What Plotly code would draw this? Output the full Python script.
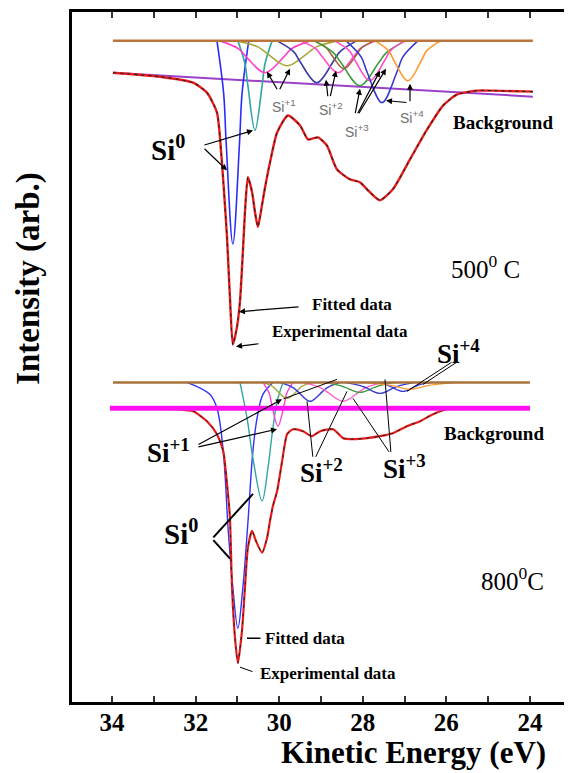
import plotly.graph_objects as go

# ---------------- data (kinetic energy in eV, intensity in arb. units) ----------------
tick_values = [34, 33, 32, 31, 30, 29, 28, 27, 26, 25, 24]
tick_labels = ["34", "", "32", "", "30", "", "28", "", "26", "", "24"]

# 500 C panel
top_baseline_energy = [33.98, 23.93]
top_baseline_intensity = [664, 664]
top_background_energy = [33.98, 23.93]
top_background_intensity = [632, 608]
top_exp_energy = [33.98, 32.85, 32.06, 31.73, 31.49, 31.39, 31.32, 31.25, 31.18, 31.11,
                  31.01, 30.94, 30.87, 30.82, 30.75, 30.65, 30.58, 30.51, 30.44, 30.36,
                  30.22, 30.05, 29.79, 29.50, 29.31, 29.07, 28.86, 28.62, 28.31, 28.07,
                  27.83, 27.59, 27.28, 26.87, 26.46, 26.08, 25.75, 25.27, 24.89, 23.93]
top_exp_intensity = [632, 628, 622, 612, 592, 552, 512, 467, 407, 359,
                     377, 402, 452, 492, 527, 512, 492, 477, 492, 512,
                     542, 572, 589, 579, 565, 567, 559, 535, 525, 522,
                     512, 504, 515, 545, 575, 599, 610, 614, 614, 613]
top_component_energy = [
    [31.49, 31.33, 31.27, 31.11, 30.95, 30.89, 30.73],
    [30.99, 30.82, 30.75, 30.58, 30.41, 30.34, 30.17],
    [31.42, 30.97, 30.79, 30.34, 29.89, 29.71, 29.26],
    [31.01, 30.51, 30.31, 29.81, 29.31, 29.11, 28.61],
    [30.05, 29.65, 29.50, 29.10, 28.71, 28.55, 28.15],
    [29.49, 29.12, 28.97, 28.59, 28.22, 28.07, 27.69],
    [29.17, 28.87, 28.75, 28.45, 28.15, 28.03, 27.73],
    [29.15, 28.70, 28.52, 28.07, 27.62, 27.44, 26.99],
    [28.67, 28.32, 28.18, 27.83, 27.48, 27.34, 26.99],
    [28.40, 28.04, 27.90, 27.54, 27.18, 27.04, 26.68],
    [27.70, 27.38, 27.25, 26.92, 26.60, 26.47, 26.14],
]
top_component_intensity = [
    [664, 611, 562, 460, 562, 611, 664],
    [664, 641, 619, 574, 619, 641, 664],
    [664, 656, 648, 632, 648, 656, 664],
    [664, 658, 652, 639, 652, 658, 664],
    [664, 653, 643, 622, 643, 653, 664],
    [664, 656, 648, 632, 648, 656, 664],
    [664, 657, 650, 636, 650, 657, 664],
    [664, 652, 642, 619, 642, 652, 664],
    [664, 654, 644, 624, 644, 654, 664],
    [664, 648, 633, 602, 633, 648, 664],
    [664, 654, 644, 624, 644, 654, 664],
]

# 800 C panel
bottom_baseline_energy = [33.98, 24.00]
bottom_baseline_intensity = [321, 321]
bottom_background_energy = [34.05, 24.00]
bottom_background_intensity = [295, 295]
bottom_exp_energy = [33.98, 32.44, 32.06, 31.73, 31.49, 31.34, 31.25, 31.18, 31.13, 31.06,
                     30.99, 30.89, 30.82, 30.75, 30.65, 30.56, 30.41, 30.29, 30.22, 30.15,
                     30.05, 29.93, 29.81, 29.67, 29.43, 29.22, 29.02, 28.71, 28.47, 28.23,
                     27.90, 27.59, 27.28, 26.94, 26.63, 26.32, 25.99, 25.67, 24.89, 24.00]
bottom_exp_intensity = [295, 294, 292, 282, 269, 252, 219, 185, 115, 65,
                        39, 72, 115, 155, 172, 162, 150, 165, 182, 197,
                        212, 242, 269, 274, 272, 267, 272, 274, 265, 264,
                        265, 267, 270, 277, 282, 289, 294, 295, 295, 295]
bottom_component_energy = [
    [32.21, 31.66, 31.49, 31.34, 31.22, 31.11, 30.99, 30.87, 30.75, 30.63, 30.53, 30.39, 30.15],
    [30.94, 30.77, 30.63, 30.41, 30.27, 30.17, 30.05, 29.91],
    [30.39, 30.24, 30.18, 30.03, 29.88, 29.82, 29.67],
    [30.41, 30.16, 30.06, 29.81, 29.56, 29.46, 29.21],
    [29.98, 29.68, 29.56, 29.26, 28.96, 28.84, 28.54],
    [29.43, 29.03, 28.87, 28.47, 28.07, 27.91, 27.51],
    [28.91, 28.56, 28.42, 28.07, 27.72, 27.58, 27.23],
    [28.43, 28.08, 27.94, 27.59, 27.24, 27.10, 26.75],
    [27.76, 27.46, 27.34, 27.04, 26.74, 26.62, 26.32],
    [27.95, 27.50, 27.32, 26.87, 26.42, 26.24, 25.79],
]
bottom_component_intensity = [
    [321, 309, 295, 252, 172, 115, 74, 115, 180, 252, 285, 309, 321],
    [321, 285, 245, 202, 235, 269, 302, 321],
    [321, 310, 299, 277, 299, 310, 321],
    [321, 317, 313, 305, 313, 317, 321],
    [321, 316, 312, 302, 312, 316, 321],
    [321, 316, 312, 302, 312, 316, 321],
    [321, 318, 316, 311, 316, 318, 321],
    [321, 318, 316, 310, 316, 318, 321],
    [321, 319, 317, 312, 317, 319, 321],
    [321, 319, 318, 314, 318, 319, 321],
]

# ---------------- styles ----------------
top_component_colors = ["#2b2bff", "#2fa6a0", "#ff3fd0", "#a8a838", "#3a3aa8", "#ff4fc8",
                        "#a0603a", "#3a9a3a", "#ff4fc8", "#3a3ad0", "#ff9a30"]
bottom_component_colors = ["#3030ff", "#2fa6a0", "#ff3fd0", "#a8a838", "#3a3ad0", "#ff5fc8",
                           "#3a9a3a", "#3a3ad0", "#3a3ad0", "#ff9a30"]
SERIF = "Liberation Serif"
SANS = "Liberation Sans"

fig = go.Figure()


def add_line(x, y, color, width, dash="solid", shape="spline", smoothing=0.8):
    fig.add_trace(go.Scatter(x=x, y=y, mode="lines",
                             line=dict(color=color, width=width, dash=dash, shape=shape,
                                       smoothing=smoothing if shape == "spline" else None),
                             hoverinfo="skip", showlegend=False))


# top panel
add_line(top_background_energy, top_background_intensity, "#9a40c8", 2, shape="linear")
for ex, iy, c in zip(top_component_energy, top_component_intensity, top_component_colors):
    add_line(ex, iy, c, 1.6, smoothing=1.0)
add_line(top_baseline_energy, top_baseline_intensity, "#b8743a", 2.5, shape="linear")
add_line(top_exp_energy, top_exp_intensity, "#e81c1c", 2.4, smoothing=0.6)
add_line(top_exp_energy, top_exp_intensity, "#202020", 1.1, dash="3px,4px", smoothing=0.6)

# bottom panel
for ex, iy, c in zip(bottom_component_energy, bottom_component_intensity, bottom_component_colors):
    add_line(ex, iy, c, 1.4, smoothing=1.0)
add_line(bottom_baseline_energy, bottom_baseline_intensity, "#a8703a", 2.5, shape="linear")
add_line(bottom_exp_energy, bottom_exp_intensity, "#e81c1c", 2.2, smoothing=0.6)
add_line(bottom_exp_energy, bottom_exp_intensity, "#202020", 1.0, dash="3px,5px", smoothing=0.6)
add_line(bottom_background_energy, bottom_background_intensity, "#ff10f0", 5, shape="linear")

# ---------------- annotations (page pixel positions -> paper coords) ----------------
# the page body adds an 8px offset, so the figure is sized to put the frame at these page pixels
OFF = 8
L, R, T, B = 72, 570, 9, 702
FIG_W, FIG_H = 572 - OFF, 773 - OFF


def px(xp):
    return (xp - L) / (R - L)


def py(yp):
    return (B - yp) / (B - T)


annos = []


def text(x, y, s, size, family=SERIF, color="black", bold=True):
    annos.append(dict(x=px(x), y=py(y), xref="paper", yref="paper", text=("<b>%s</b>" % s) if bold else s,
                      showarrow=False, xanchor="center", yanchor="middle",
                      font=dict(family=family, size=size, color=color)))


def arrow(tx, ty, hx, hy, head=2, width=1.2, color="black"):
    annos.append(dict(x=px(hx), y=py(hy), xref="paper", yref="paper", text="",
                      showarrow=True, ax=tx - hx, ay=ty - hy, axref="pixel", ayref="pixel",
                      arrowhead=head, arrowsize=1, arrowwidth=width, arrowcolor=color,
                      standoff=0, startstandoff=0))


# top panel labels
text(168, 146, "Si<sup>0</sup>", 29)
arrow(203, 143, 253, 128)
arrow(203, 145, 227, 168)
GRAY = "#707070"
text(284, 103, "Si<sup>+1</sup>", 14, SANS, GRAY, bold=False)
arrow(278, 88, 267, 69)
arrow(279, 88, 290, 66)
text(331, 106, "Si<sup>+2</sup>", 14, SANS, GRAY, bold=False)
arrow(328, 95, 326, 77)
arrow(330, 95, 336, 68)
text(357, 129, "Si<sup>+3</sup>", 14, SANS, GRAY, bold=False)
arrow(355, 112, 360, 86)
arrow(357, 112, 380, 68)
arrow(358, 112, 386, 66)
text(412, 114, "Si<sup>+4</sup>", 14, SANS, GRAY, bold=False)
arrow(410, 100, 410, 81)
arrow(408, 100, 386, 98)
text(503, 120, "Background", 19)
text(485, 265, "500<sup>0</sup> C", 25, bold=False)
arrow(300, 305, 239, 310)
text(352, 303, "Fitted data", 17)
arrow(260, 342, 236, 345)
text(340, 330, "Experimental data", 17)

# bottom panel labels
text(458, 350, "Si<sup>+4</sup>", 27)
arrow(453, 360, 407, 390, head=0, width=1)
arrow(458, 360, 423, 383, head=0, width=1)
text(168, 450, "Si<sup>+1</sup>", 27)
arrow(197, 444, 282, 398)
arrow(197, 446, 277, 428)
arrow(282, 398, 337, 378, head=0, width=1)
text(321, 470, "Si<sup>+2</sup>", 27)
arrow(313, 457, 307, 400, head=0, width=1)
arrow(315, 457, 347, 390, head=0, width=1)
text(404, 466, "Si<sup>+3</sup>", 27)
arrow(390, 452, 353, 397, head=0, width=1)
arrow(391, 452, 385, 378, head=0, width=1)
text(494, 432, "Background", 19)
text(181, 531, "Si<sup>0</sup>", 29)
arrow(212, 538, 253, 493, head=0, width=2)
arrow(212, 538, 230, 558, head=0, width=2)
text(512, 578, "800<sup>0</sup>C", 25, bold=False)
arrow(262, 638, 247, 638, head=0, width=1.5)
text(305, 638, "Fitted data", 17)
arrow(254, 672, 240, 667, head=0, width=1)
text(328, 673, "Experimental data", 17)

# axis titles
text(413, 753, "Kinetic Energy (eV)", 31)
annos.append(dict(x=px(29), y=py(277), xref="paper", yref="paper", text="<b>Intensity (arb.)</b>",
                  showarrow=False, textangle=-90, xanchor="center", yanchor="middle",
                  font=dict(family=SERIF, size=33, color="black")))

fig.update_layout(
    width=FIG_W, height=FIG_H,
    margin=dict(l=L - OFF, r=FIG_W + OFF - R, t=T - OFF, b=FIG_H + OFF - B),
    paper_bgcolor="white", plot_bgcolor="white",
    showlegend=False,
    annotations=annos,
    shapes=[dict(type="line", xref="paper", yref="paper", x0=1, x1=1, y0=0, y1=1,
                 line=dict(color="black", width=1))],
    xaxis=dict(range=[34.96, 23.04], showgrid=False, zeroline=False,
               showline=True, linewidth=3, linecolor="black", mirror="ticks",
               ticks="inside", ticklen=6, tickwidth=1.5, tickcolor="#333",
               tickvals=tick_values, ticktext=["<b>%s</b>" % t if t else "" for t in tick_labels],
               tickfont=dict(family=SERIF, size=25, color="black"),
               ticklabelstandoff=-4),
    yaxis=dict(range=[0, 693], showgrid=False, zeroline=False, showline=True, linewidth=3,
               linecolor="black", showticklabels=False, ticks=""),
)

fig.write_html("out.html")
